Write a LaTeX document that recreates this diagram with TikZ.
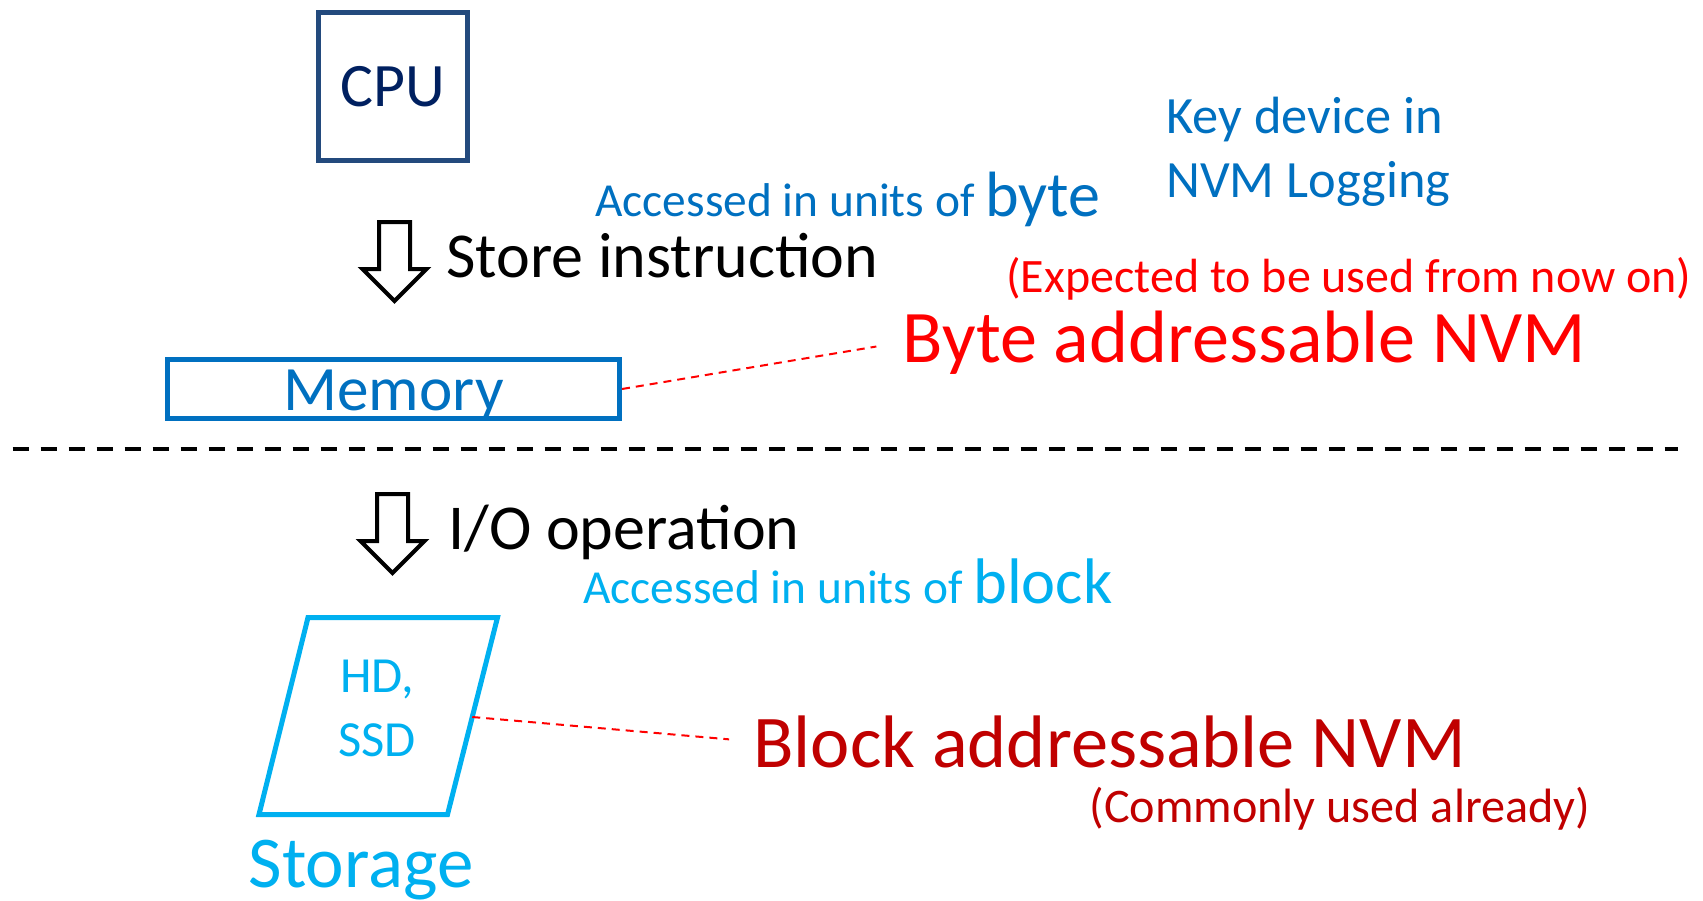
\documentclass[tikz,border=0pt]{standalone}
\usepackage{fontspec}
\setmainfont{Carlito}
\usetikzlibrary{calc}
\definecolor{cpublue}{RGB}{35,74,125}
\definecolor{cputext}{RGB}{0,32,96}
\definecolor{midblue}{RGB}{0,112,192}
\definecolor{skyblue}{RGB}{0,176,240}
\definecolor{darkred}{RGB}{192,0,0}
\newcommand{\fsz}[2]{\fontsize{#1}{#2}\selectfont}

\begin{document}
\begin{tikzpicture}[x=0.5pt,y=-0.5pt,
                    every node/.style={inner sep=0pt},
                    cpubox/.style={draw=cpublue,line width=2.5pt,minimum width=74.5pt,
                      minimum height=74pt,text=cputext,font=\fsz{30.9}{37}},
                    membox/.style={draw=midblue,line width=2.5pt,minimum width=226pt,
                      minimum height=29.5pt,text=midblue,font=\fsz{31.6}{38},
                      text height=21pt,text depth=0pt},
                    bigtext/.style={anchor=base west,font=\fsz{32}{38}},
                    note/.style={anchor=base west,font=\fsz{23.7}{28}},
                    leader/.style={red,line width=1pt,dash pattern=on 4pt off 3pt},
                    sep/.style={black,line width=2pt,dash pattern=on 8pt off 6pt},
                    blockarrow/.pic={\draw[line width=2pt] (-15.5,0) -- (15.5,0) -- (15.5,47)
                      -- (32,47) -- (0,79) -- (-32,47) -- (-15.5,47) -- cycle;}]
  \useasboundingbox (0,0) rectangle (1703,900);
  \node[cpubox] (cpu) at (393,86.5) {CPU};
  \pic at (394.5,222) {blockarrow};
  \node[bigtext] (store) at (446,277) {Store instruction};
  \node[note,text=midblue] (accbyte) at (595,216) {Accessed in units of {\fsz{32}{38}byte}};
  \node[anchor=base west,align=left,text=midblue,font=\fsz{26.2}{32}] (key) at (1166,197)
      {Key device in\\NVM Logging};
  \node[note,text=red,font=\fsz{24}{28}] (expect) at (1006,292) {(Expected to be used from now on)};
  \node[anchor=base west,text=red,font=\fsz{37.1}{44}] (bytenvm) at (902,362) {Byte addressable NVM};
  \node[membox] (mem) at (393.5,389) {Memory};
  \draw[leader,shorten >=13pt] (mem.east) -- (bytenvm.west);
  \draw[sep] (12.7,449) -- (1678,449);
  \pic at (392.5,494) {blockarrow};
  \node[bigtext] (io) at (448,549) {I/O operation};
  \node[note,text=skyblue] (accblock) at (583,603) {Accessed in units of {\fsz{32.2}{38}block}};
  \draw[skyblue,line width=2.5pt] (308,617.5) coordinate (stl) -- (497.5,617.5) coordinate (str)
      -- (447.5,814.5) coordinate (sbr) -- (259,814.5) coordinate (sbl) -- cycle;
  \node[align=center,text=skyblue,font=\fsz{25.3}{32}] (hdssd) at (377,708) {HD,\\SSD};
  \node[anchor=base,text=skyblue,font=\fsz{36.5}{42}] (stor) at (361,887) {Storage};
  \node[anchor=base west,text=darkred,font=\fsz{37.2}{44}] (blocknvm) at (753,767) {Block addressable NVM};
  \node[note,text=darkred,font=\fsz{24.1}{28}] (common) at (1089,822) {(Commonly used already)};
  \draw[leader,shorten >=12pt] ($(str)!0.505!(sbr)$) -- (blocknvm.west);
\end{tikzpicture}
\end{document}
